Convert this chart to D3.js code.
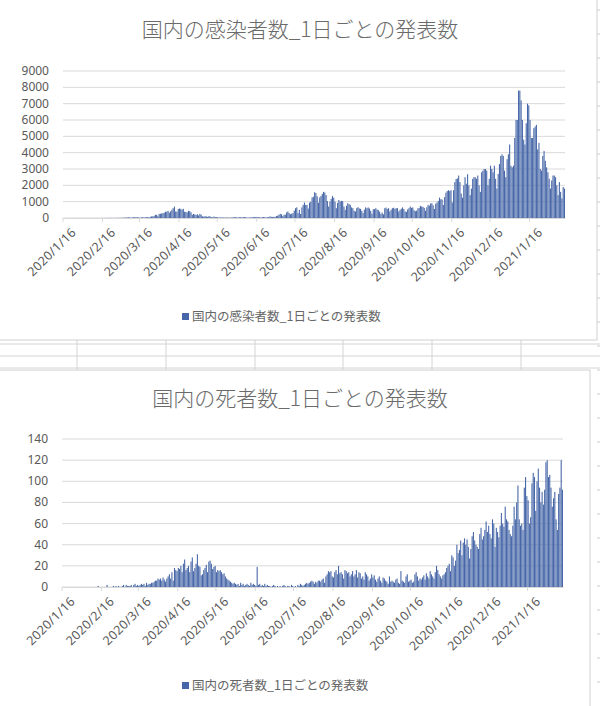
<!DOCTYPE html>
<html lang="ja">
<head>
<meta charset="utf-8" />
<title>国内の感染者数・死者数</title>
<style type="text/css">
  body { margin: 0; background: #fff; font-family: "Noto Sans CJK JP", "Noto Sans", sans-serif; }
</style>
</head>
<body>
<div id="graph"></div>
<script src="https://d3js.org/d3.v7.min.js"></script>
<script type="text/javascript">
const W = 600, H = 706;
const startDate = new Date(2020, 0, 16);
const tickLabels = ["2020/1/16","2020/2/16","2020/3/16","2020/4/16","2020/5/16","2020/6/16","2020/7/16","2020/8/16","2020/9/16","2020/10/16","2020/11/16","2020/12/16","2021/1/16"];

// daily values, one array per month (Jan 16 2020 .. Feb 12 2021)
const cases = [].concat(
  [1,0,0,0,0,0,0,1,1,0,1,0,2,3,1,1],
  [1,3,0,0,1,0,1,3,1,0,1,2,1,1,2,3,5,3,4,6,10,7,6,4,5,8,9,11,10],
  [12,15,20,25,30,33,40,35,30,25,50,55,40,45,30,20,40,45,35,40,50,55,40,70,95,100,120,200,190,110,250],
  [260,280,300,320,380,390,440,330,410,500,600,700,400,390,550,580,560,500,560,380,370,340,440,420,350,200,250,220,180,230],
  [160,250,200,100,80,120,90,70,110,100,50,40,90,60,50,40,30,30,25,40,20,25,30,30,20,20,35,40,50,50,40],
  [30,40,50,40,50,60,40,30,20,30,40,40,50,60,70,40,50,40,30,50,60,50,30,40,60,100,70,60,80,60],
  [120,140,200,250,230,110,200,200,340,400,300,230,260,300,450,600,650,300,500,250,650,800,950,800,800,580,940,990,1260,1300,1580],
  [1530,1330,930,1260,1350,1480,1600,1560,1400,1040,700,1000,1170,1340,1240,1000,600,920,1100,1000,1050,1030,700,500,750,900,850,800,650,600,440],
  [400,600,660,590,560,440,300,510,650,600,650,580,440,260,540,540,600,520,480,390,250,330,220,600,640,550,600,400,510,600],
  [630,560,600,600,400,500,570,650,550,400,380,530,600,700,620,650,480,420,450,590,620,740,700,680,620,440,660,800,750,890,900],
  [770,550,880,940,1050,1250,1150,1130,800,1280,1550,1650,1700,1650,1700,950,1700,2200,2390,2420,2600,2200,1500,1240,2000,2500,2100,2680,2000,1400],
  [1800,2400,2500,2500,2400,2600,2000,1600,2800,2900,3000,3000,2900,2000,2400,3200,3000,2800,3200,2400,1800,2700,3300,3800,3900,3800,2900,2500,3600,3900,4500],
  [3200,3100,3200,4900,6000,6000,7800,7800,7200,6000,4800,4500,5800,7000,6900,6000,4900,4900,5500,5600,5700,4200,4600,3000,2900,3800,4100,3500,3100,2800,2400],
  [1800,2300,2600,2600,2500,2000,1400,2200,1600,1200,1900,1800]
);
const deaths = [].concat(
  [0,0,0,0,0,0,0,0,0,0,0,0,0,0,0,0],
  [0,0,0,0,0,0,0,0,0,0,0,0,1,0,0,0,0,0,0,2,0,0,0,0,1,0,1,0,1],
  [0,0,1,2,0,2,1,1,1,2,0,2,3,1,2,1,2,3,2,3,1,4,2,3,3,4,4,5,6,6,8],
  [7,8,6,9,7,5,8,10,12,8,14,6,18,16,15,18,17,20,14,22,26,16,18,20,14,24,28,15,18,22],
  [31,20,19,11,12,16,18,21,14,24,25,22,17,19,20,14,16,15,16,14,12,13,10,8,7,6,5,4,3,4,3],
  [2,3,1,4,2,3,1,2,3,2,1,4,2,3,2,1,19,2,3,1,2,1,3,1,2,1,1,0,1,2],
  [1,0,1,0,1,0,1,2,1,0,1,1,0,2,1,0,1,0,2,1,3,2,1,2,3,4,3,4,5,6,5],
  [3,5,4,6,6,5,7,8,4,10,12,15,14,15,10,9,14,16,12,20,13,14,12,8,16,15,13,14,10,12,15],
  [10,12,16,9,14,13,8,10,7,14,12,10,6,8,12,9,11,7,5,8,10,6,4,9,8,6,5,3,10,5],
  [6,5,4,7,8,4,3,15,6,5,4,10,12,5,6,7,4,5,12,14,10,6,8,7,9,11,7,13,10,8,15],
  [12,10,8,14,20,16,12,10,8,11,12,14,18,20,22,15,30,28,20,25,40,32,35,44,30,42,46,40,45,38],
  [27,36,48,52,44,40,38,36,50,56,45,48,54,62,52,58,50,46,64,60,38,56,52,47,58,70,60,57,76,64,62],
  [54,50,48,58,76,64,80,96,64,58,60,54,94,104,86,82,60,66,98,108,104,72,100,112,94,80,90,78,92,118,120],
  [104,106,94,76,84,90,64,54,88,94,120,92]
);
const casesTicks = d3.range(0, 9001, 1000);
const deathsTicks = d3.range(0, 141, 20);

const fmt = d3.timeFormat("%Y/%-m/%-d");
const dates = cases.map((_, i) => d3.timeDay.offset(startDate, i));

const svg = d3.select("#graph").append("svg").attr("width", W).attr("height", H);

// spreadsheet background
const sheetRows = [344, 356, 368];
const sheetCols = [77, 166, 255, 343, 432, 521];
svg.selectAll(".row").data(sheetRows).enter().append("line")
  .attr("x1", 0).attr("x2", W).attr("y1", d => d).attr("y2", d => d)
  .attr("stroke", "#d4d4d4");
svg.selectAll(".col").data(sheetCols).enter().append("line")
  .attr("x1", d => d).attr("x2", d => d).attr("y1", 340).attr("y2", 372)
  .attr("stroke", "#d4d4d4");
svg.selectAll(".rtick").data(d3.range(10, H, 24)).enter().append("line")
  .attr("x1", 597).attr("x2", W).attr("y1", d => d).attr("y2", d => d)
  .attr("stroke", "#ccc");

const drawChart = (cfg) => {
  const g = svg.append("g");
  g.append("rect").attr("x", cfg.box[0]).attr("y", cfg.box[1])
    .attr("width", cfg.box[2]).attr("height", cfg.box[3])
    .attr("fill", "#fff").attr("stroke", "#d0d0d0");

  g.append("text").attr("x", 300).attr("y", cfg.titleY)
    .attr("text-anchor", "middle").attr("font-size", 21).attr("fill", "#6a6a6a")
    .attr("font-weight", 300)
    .text(cfg.title);

  const x = d3.scaleBand().domain(dates).range([cfg.left, cfg.right]).paddingInner(0.15);
  const y = d3.scaleLinear().domain([0, cfg.max]).range([cfg.bottom, cfg.top]);

  g.selectAll(".grid").data(cfg.ticks).enter().append("line")
    .attr("x1", cfg.left).attr("x2", cfg.right)
    .attr("y1", d => y(d)).attr("y2", d => y(d))
    .attr("stroke", "#d9d9d9");

  g.selectAll(".ylab").data(cfg.ticks).enter().append("text")
    .attr("x", cfg.left - 14).attr("y", d => y(d) + 4)
    .attr("text-anchor", "end").attr("font-size", 12).attr("fill", "#595959")
    .attr("font-family", "'Noto Sans', sans-serif")
    .text(d => d);

  g.selectAll(".bar").data(cfg.values).enter().append("rect")
    .attr("x", (d, i) => x(dates[i]))
    .attr("width", x.bandwidth())
    .attr("y", d => y(d))
    .attr("height", d => cfg.bottom - y(d))
    .attr("fill", "#4767a8");

  const xAxis = d3.axisBottom(x)
    .tickValues(dates.filter(d => tickLabels.includes(fmt(d))))
    .tickFormat(fmt).tickSize(4).tickSizeOuter(0);
  const ax = g.append("g").attr("transform", `translate(0,${cfg.bottom})`).call(xAxis);
  ax.select(".domain").attr("stroke", "#d9d9d9");
  ax.selectAll(".tick line").attr("stroke", "#d9d9d9")
    .attr("transform", d => `translate(${-x.bandwidth() / 2},0)`);
  ax.selectAll(".tick text")
    .attr("font-size", 12.5).attr("fill", "#595959")
    .attr("font-family", "'Noto Sans', sans-serif")
    .attr("letter-spacing", "0.3px")
    .attr("text-anchor", "end")
    .attr("transform", "translate(2,4) rotate(-45)")
    .attr("dx", 0).attr("dy", "0.7em");

  const lg = g.append("g").attr("transform", `translate(300,${cfg.legendY})`);
  lg.append("rect").attr("x", -118).attr("y", -8).attr("width", 7).attr("height", 7).attr("fill", "#4767a8");
  lg.append("text").attr("x", -108).attr("y", 0).attr("font-size", 12.5).attr("fill", "#666")
    .text(cfg.title);
};

drawChart({
  title: "国内の感染者数_1日ごとの発表数",
  values: cases, ticks: casesTicks, max: 9000,
  box: [-1, -1, 598, 341], titleY: 37,
  left: 63, right: 565, top: 71, bottom: 218, legendY: 321
});

drawChart({
  title: "国内の死者数_1日ごとの発表数",
  values: deaths, ticks: deathsTicks, max: 140,
  box: [-1, 370, 591, 340], titleY: 406,
  left: 62, right: 563, top: 439, bottom: 587, legendY: 690
});
</script>
</body>
</html>
